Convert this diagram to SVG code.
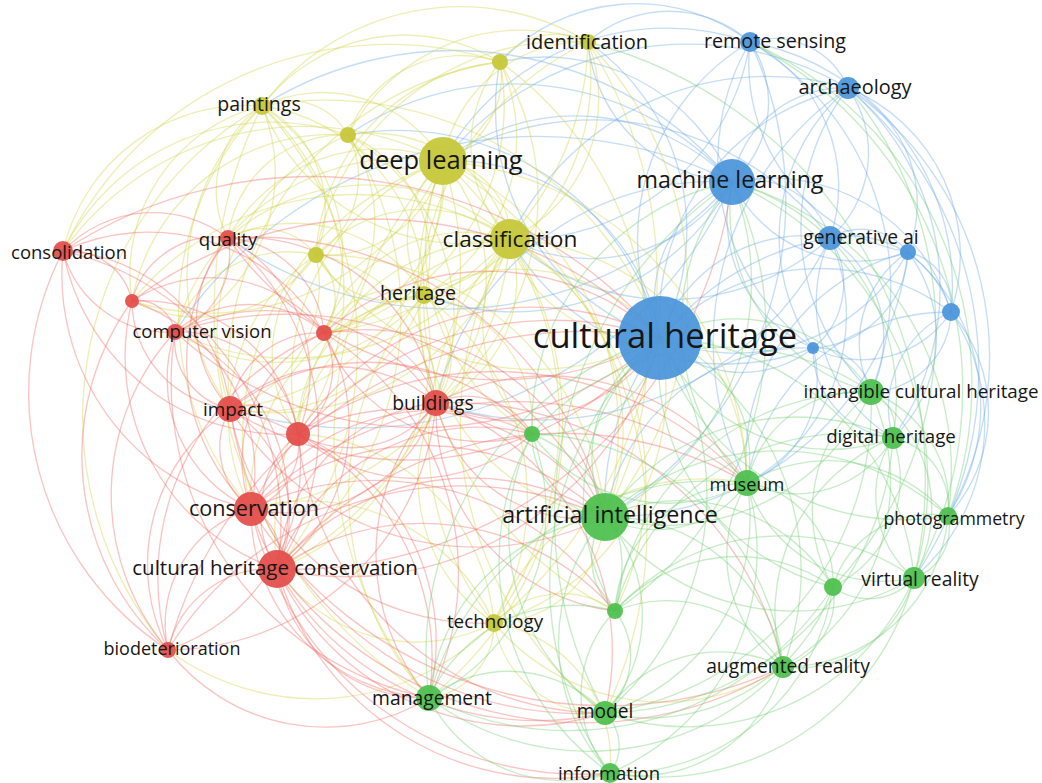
<svg xmlns="http://www.w3.org/2000/svg" width="1042" height="783" viewBox="0 0 1042 783">
<style>
.c path{fill:none;stroke-width:1.35;stroke-opacity:.4}
.eb path{stroke:#6ea9e6}
.ey path{stroke:#d3d548}
.er path{stroke:#ef6e69}
.eg path{stroke:#73d073}
.nb{fill:#4a94da}
.ny{fill:#c6c737}
.nr{fill:#e34c49}
.ng{fill:#4cc04c}
circle{fill-opacity:.93}
text{font-family:"Open Sans","Noto Sans","DejaVu Sans",sans-serif;fill:#161616;text-anchor:middle}
</style>
<rect width="1042" height="783" fill="#ffffff"/>
<g id="connectors" class="c">
<g class="eb">
<path d="M660 338A129 129 0 0 1 732 182"/><path d="M660 338A229 229 0 0 1 750 42"/><path d="M660 338A236 236 0 0 1 848 88"/><path d="M660 338A152 152 0 0 1 830 238"/><path d="M660 338A197 197 0 0 0 908 252"/><path d="M660 338A219 219 0 0 1 951 312"/><path d="M660 338A115 115 0 0 0 813 348"/><path d="M660 338A210 210 0 0 0 443 161"/><path d="M660 338A229 229 0 0 0 588 42"/><path d="M660 338A242 242 0 0 1 500 62"/><path d="M660 338A270 270 0 0 0 348 135"/>
<path d="M732 182A106 106 0 0 0 750 42"/><path d="M732 182A113 113 0 0 1 848 88"/><path d="M732 182A83 83 0 0 1 830 238"/><path d="M732 182A140 140 0 0 0 908 252"/><path d="M732 182A188 188 0 0 1 951 312"/><path d="M732 182A140 140 0 0 0 813 348"/><path d="M732 182A218 218 0 0 0 443 161"/><path d="M732 182A171 171 0 0 1 510 239"/><path d="M732 182A154 154 0 0 1 588 42"/><path d="M732 182A203 203 0 0 0 500 62"/><path d="M732 182A293 293 0 0 0 348 135"/><path d="M732 182A248 248 0 0 1 424 295"/><path d="M732 182A360 360 0 0 0 262 106"/><path d="M732 182A285 285 0 0 0 436 403"/><path d="M732 182A435 435 0 0 0 175 332"/><path d="M732 182A413 413 0 0 1 230 409"/><path d="M732 182A379 379 0 0 1 228 238"/>
<path d="M750 42A81 81 0 0 1 848 88"/><path d="M750 42A161 161 0 0 1 830 238"/><path d="M750 42A191 191 0 0 0 908 252"/><path d="M750 42A248 248 0 0 1 951 312"/><path d="M750 42A233 233 0 0 0 813 348"/><path d="M750 42A122 122 0 0 0 588 42"/><path d="M750 42A255 255 0 0 0 443 161"/><path d="M750 42A233 233 0 0 1 510 239"/><path d="M750 42A188 188 0 0 0 500 62"/>
<path d="M848 88A113 113 0 0 1 830 238"/><path d="M848 88A131 131 0 0 1 908 252"/><path d="M848 88A180 180 0 0 1 951 312"/><path d="M848 88A197 197 0 0 0 813 348"/><path d="M848 88A285 285 0 0 0 510 239"/><path d="M848 88A315 315 0 0 0 443 161"/>
<path d="M830 238A60 60 0 0 1 908 252"/><path d="M830 238A105 105 0 0 1 951 312"/><path d="M830 238A83 83 0 0 1 813 348"/><path d="M830 238A240 240 0 0 1 510 239"/><path d="M830 238A296 296 0 0 0 443 161"/><path d="M830 238A323 323 0 0 1 436 403"/>
<path d="M908 252A56 56 0 0 1 951 312"/><path d="M908 252A101 101 0 0 1 813 348"/><path d="M951 312A107 107 0 0 1 813 348"/><path d="M813 348A248 248 0 0 1 510 239"/>
<path d="M750 42A368 368 0 0 1 605 517"/><path d="M750 42A285 285 0 0 1 871 392"/><path d="M848 88A229 229 0 0 0 871 392"/><path d="M848 88A263 263 0 0 1 893 438"/><path d="M848 88A326 326 0 0 1 948 516"/><path d="M848 88A308 308 0 0 0 747 483"/><path d="M848 88A368 368 0 0 1 914 578"/>
<path d="M830 238A270 270 0 0 0 605 517"/><path d="M830 238A191 191 0 0 1 747 483"/><path d="M830 238A120 120 0 0 1 871 392"/><path d="M830 238A158 158 0 0 0 893 438"/>
<path d="M908 252A109 109 0 0 0 871 392"/><path d="M908 252A140 140 0 0 1 893 438"/><path d="M908 252A200 200 0 0 1 948 516"/><path d="M908 252A214 214 0 0 0 747 483"/><path d="M908 252A300 300 0 0 1 605 517"/>
<path d="M951 312A83 83 0 0 1 871 392"/><path d="M951 312A105 105 0 0 0 893 438"/><path d="M951 312A153 153 0 0 1 948 516"/><path d="M951 312A203 203 0 0 1 914 578"/><path d="M951 312A203 203 0 0 0 747 483"/>
<path d="M813 348A55 55 0 0 1 871 392"/><path d="M813 348A90 90 0 0 0 893 438"/><path d="M813 348A113 113 0 0 1 747 483"/><path d="M813 348A203 203 0 0 0 605 517"/>
</g>
<g class="ey">
<path d="M660 338A139 139 0 0 1 510 239"/><path d="M660 338A353 353 0 0 0 262 106"/><path d="M660 338A266 266 0 0 1 316 255"/><path d="M660 338A182 182 0 0 0 424 295"/><path d="M660 338A242 242 0 0 1 494 623"/>
<path d="M443 161A77 77 0 0 1 510 239"/><path d="M443 161A143 143 0 0 1 588 42"/><path d="M443 161A90 90 0 0 0 500 62"/><path d="M443 161A75 75 0 0 1 348 135"/><path d="M443 161A141 141 0 0 0 262 106"/><path d="M443 161A120 120 0 0 1 316 255"/><path d="M443 161A103 103 0 0 0 424 295"/><path d="M443 161A347 347 0 0 1 494 623"/><path d="M443 161A173 173 0 0 0 228 238"/><path d="M443 161A255 255 0 0 1 132 301"/><path d="M443 161A240 240 0 0 0 175 332"/><path d="M443 161A158 158 0 0 1 324 333"/><path d="M443 161A240 240 0 0 1 230 409"/><path d="M443 161A233 233 0 0 0 298 434"/><path d="M443 161A180 180 0 0 1 436 403"/><path d="M443 161A293 293 0 0 0 251 509"/><path d="M443 161A338 338 0 0 1 277 569"/><path d="M443 161A293 293 0 0 1 605 517"/><path d="M443 161A218 218 0 0 0 532 434"/><path d="M443 161A405 405 0 0 0 429 698"/><path d="M443 161A431 431 0 0 1 605 713"/><path d="M443 161A296 296 0 0 0 63 251"/><path d="M443 161A330 330 0 0 1 747 483"/><path d="M443 161A356 356 0 0 0 615 611"/>
<path d="M510 239A155 155 0 0 0 588 42"/><path d="M510 239A133 133 0 0 1 500 62"/><path d="M510 239A143 143 0 0 0 348 135"/><path d="M510 239A218 218 0 0 1 262 106"/><path d="M510 239A146 146 0 0 0 316 255"/><path d="M510 239A75 75 0 0 1 424 295"/><path d="M510 239A289 289 0 0 0 494 623"/><path d="M510 239A212 212 0 0 0 228 238"/><path d="M510 239A263 263 0 0 1 175 332"/><path d="M510 239A150 150 0 0 0 324 333"/><path d="M510 239A248 248 0 0 1 230 409"/><path d="M510 239A210 210 0 0 0 298 434"/><path d="M510 239A133 133 0 0 1 436 403"/><path d="M510 239A293 293 0 0 1 251 509"/><path d="M510 239A300 300 0 0 0 277 569"/><path d="M510 239A218 218 0 0 1 605 517"/><path d="M510 239A147 147 0 0 0 532 434"/><path d="M510 239A248 248 0 0 1 747 483"/><path d="M510 239A349 349 0 0 1 429 698"/><path d="M510 239A364 364 0 0 0 605 713"/><path d="M510 239A285 285 0 0 1 615 611"/><path d="M510 239A289 289 0 0 0 132 301"/>
<path d="M588 42A70 70 0 0 0 500 62"/><path d="M588 42A195 195 0 0 0 348 135"/><path d="M588 42A248 248 0 0 0 262 106"/><path d="M588 42A225 225 0 0 1 424 295"/><path d="M588 42A255 255 0 0 0 316 255"/><path d="M588 42A300 300 0 0 1 324 333"/><path d="M588 42A356 356 0 0 1 605 517"/><path d="M588 42A293 293 0 0 0 436 403"/><path d="M588 42A443 443 0 0 1 494 623"/>
<path d="M500 62A120 120 0 0 0 348 135"/><path d="M500 62A180 180 0 0 0 262 106"/><path d="M500 62A180 180 0 0 1 424 295"/><path d="M500 62A203 203 0 0 0 316 255"/><path d="M500 62A233 233 0 0 1 324 333"/><path d="M500 62A259 259 0 0 1 436 403"/><path d="M500 62A353 353 0 0 1 605 517"/><path d="M500 62A315 315 0 0 0 230 409"/>
<path d="M348 135A68 68 0 0 0 262 106"/><path d="M348 135A92 92 0 0 1 316 255"/><path d="M348 135A131 131 0 0 1 424 295"/><path d="M348 135A116 116 0 0 0 228 238"/><path d="M348 135A150 150 0 0 1 324 333"/><path d="M348 135A210 210 0 0 1 436 403"/><path d="M348 135A218 218 0 0 0 230 409"/><path d="M348 135A326 326 0 0 1 277 569"/><path d="M348 135A233 233 0 0 0 63 251"/><path d="M348 135A203 203 0 0 0 132 301"/>
<path d="M262 106A116 116 0 0 1 316 255"/><path d="M262 106A188 188 0 0 0 63 251"/><path d="M262 106A101 101 0 0 0 228 238"/><path d="M262 106A173 173 0 0 0 132 301"/><path d="M262 106A176 176 0 0 1 175 332"/><path d="M262 106A176 176 0 0 1 324 333"/><path d="M262 106A229 229 0 0 0 230 409"/><path d="M262 106A300 300 0 0 0 251 509"/><path d="M262 106A188 188 0 0 1 424 295"/><path d="M262 106A248 248 0 0 1 298 434"/><path d="M262 106A349 349 0 0 1 277 569"/><path d="M262 106A360 360 0 0 0 168 650"/><path d="M262 106A458 458 0 0 0 429 698"/><path d="M63 251A360 360 0 0 1 500 62"/>
<path d="M316 255A68 68 0 0 0 228 238"/><path d="M316 255A59 59 0 0 1 324 333"/><path d="M316 255A120 120 0 0 0 175 332"/><path d="M316 255A131 131 0 0 1 230 409"/><path d="M316 255A135 135 0 0 0 298 434"/><path d="M316 255A143 143 0 0 1 436 403"/><path d="M316 255A86 86 0 0 0 424 295"/><path d="M316 255A195 195 0 0 0 251 509"/><path d="M316 255A143 143 0 0 1 132 301"/><path d="M316 255A285 285 0 0 1 605 517"/>
<path d="M424 295A81 81 0 0 0 324 333"/><path d="M424 295A81 81 0 0 1 436 403"/><path d="M424 295A135 135 0 0 0 298 434"/><path d="M424 295A173 173 0 0 1 230 409"/><path d="M424 295A203 203 0 0 0 251 509"/><path d="M424 295A236 236 0 0 1 277 569"/><path d="M424 295A251 251 0 0 1 494 623"/><path d="M424 295A131 131 0 0 1 532 434"/><path d="M424 295A214 214 0 0 0 605 517"/><path d="M424 295A191 191 0 0 1 175 332"/><path d="M424 295A300 300 0 0 0 429 698"/><path d="M424 295A154 154 0 0 0 228 238"/>
<path d="M494 623A75 75 0 0 1 429 698"/><path d="M494 623A108 108 0 0 0 605 713"/><path d="M494 623A139 139 0 0 1 610 773"/><path d="M494 623A113 113 0 0 0 605 517"/><path d="M494 623A169 169 0 0 1 277 569"/><path d="M494 623A203 203 0 0 0 251 509"/><path d="M494 623A173 173 0 0 1 436 403"/><path d="M494 623A92 92 0 0 1 615 611"/><path d="M494 623A221 221 0 0 0 783 667"/><path d="M494 623A225 225 0 0 1 747 483"/><path d="M494 623A206 206 0 0 0 298 434"/><path d="M494 623A248 248 0 0 1 168 650"/>
</g>
<g class="er">
<path d="M660 338A455 455 0 0 0 63 251"/><path d="M660 338A330 330 0 0 1 228 238"/><path d="M660 338A401 401 0 0 0 132 301"/><path d="M660 338A364 364 0 0 1 175 332"/><path d="M660 338A252 252 0 0 0 324 333"/><path d="M660 338A327 327 0 0 1 230 409"/><path d="M660 338A280 280 0 0 0 298 434"/><path d="M660 338A173 173 0 0 1 436 403"/><path d="M660 338A335 335 0 0 0 251 509"/><path d="M660 338A324 324 0 0 1 277 569"/><path d="M660 338A431 431 0 0 0 168 650"/><path d="M732 182A443 443 0 0 1 277 569"/>
<path d="M63 251A64 64 0 0 1 132 301"/><path d="M63 251A124 124 0 0 1 228 238"/><path d="M63 251A109 109 0 0 0 175 332"/><path d="M63 251A176 176 0 0 1 230 409"/><path d="M63 251A240 240 0 0 0 251 509"/><path d="M63 251A278 278 0 0 1 277 569"/><path d="M63 251A308 308 0 0 0 168 650"/><path d="M63 251A203 203 0 0 1 324 333"/><path d="M63 251A225 225 0 0 0 298 434"/>
<path d="M228 238A86 86 0 0 0 132 301"/><path d="M228 238A83 83 0 0 1 175 332"/><path d="M228 238A105 105 0 0 1 324 333"/><path d="M228 238A128 128 0 0 0 230 409"/><path d="M228 238A154 154 0 0 1 298 434"/><path d="M228 238A195 195 0 0 1 436 403"/><path d="M228 238A203 203 0 0 0 251 509"/><path d="M228 238A251 251 0 0 1 277 569"/><path d="M228 238A360 360 0 0 1 605 517"/>
<path d="M132 301A38 38 0 0 1 175 332"/><path d="M132 301A109 109 0 0 0 230 409"/><path d="M132 301A180 180 0 0 1 251 509"/><path d="M132 301A225 225 0 0 0 277 569"/><path d="M132 301A263 263 0 0 0 168 650"/><path d="M132 301A158 158 0 0 1 298 434"/><path d="M132 301A144 144 0 0 1 324 333"/>
<path d="M175 332A113 113 0 0 1 324 333"/><path d="M175 332A71 71 0 0 0 230 409"/><path d="M175 332A120 120 0 0 1 298 434"/><path d="M175 332A203 203 0 0 1 436 403"/><path d="M175 332A143 143 0 0 0 251 509"/><path d="M175 332A188 188 0 0 1 277 569"/><path d="M175 332A240 240 0 0 0 168 650"/><path d="M175 332A353 353 0 0 1 605 517"/><path d="M175 332A323 323 0 0 0 429 698"/>
<path d="M324 333A90 90 0 0 0 230 409"/><path d="M324 333A79 79 0 0 1 298 434"/><path d="M324 333A98 98 0 0 1 436 403"/><path d="M324 333A139 139 0 0 0 251 509"/><path d="M324 333A180 180 0 0 1 277 569"/><path d="M324 333A248 248 0 0 1 605 517"/><path d="M324 333A169 169 0 0 0 532 434"/><path d="M324 333A263 263 0 0 0 168 650"/><path d="M324 333A281 281 0 0 1 429 698"/>
<path d="M230 409A54 54 0 0 1 298 434"/><path d="M230 409A155 155 0 0 1 436 403"/><path d="M230 409A77 77 0 0 0 251 509"/><path d="M230 409A124 124 0 0 1 277 569"/><path d="M230 409A188 188 0 0 0 168 650"/><path d="M230 409A289 289 0 0 0 605 517"/><path d="M230 409A255 255 0 0 1 429 698"/><path d="M230 409A255 255 0 0 0 494 623"/><path d="M230 409A225 225 0 0 1 532 434"/><path d="M230 409A356 356 0 0 0 605 713"/>
<path d="M298 434A105 105 0 0 0 436 403"/><path d="M298 434A68 68 0 0 1 251 509"/><path d="M298 434A103 103 0 0 0 277 569"/><path d="M298 434A195 195 0 0 1 168 650"/><path d="M298 434A240 240 0 0 1 605 517"/><path d="M298 434A176 176 0 0 0 532 434"/><path d="M298 434A225 225 0 0 1 429 698"/><path d="M298 434A341 341 0 0 1 747 483"/><path d="M298 434A308 308 0 0 0 605 713"/>
<path d="M436 403A158 158 0 0 1 251 509"/><path d="M436 403A180 180 0 0 0 277 569"/><path d="M436 403A270 270 0 0 1 168 650"/><path d="M436 403A150 150 0 0 0 605 517"/><path d="M436 403A75 75 0 0 1 532 434"/><path d="M436 403A240 240 0 0 1 747 483"/><path d="M436 403A221 221 0 0 0 429 698"/><path d="M436 403A263 263 0 0 1 605 713"/><path d="M436 403A203 203 0 0 0 615 611"/><path d="M436 403A338 338 0 0 1 783 667"/>
<path d="M251 509A49 49 0 0 1 277 569"/><path d="M251 509A120 120 0 0 0 168 650"/><path d="M251 509A266 266 0 0 1 605 517"/><path d="M251 509A188 188 0 0 0 429 698"/><path d="M251 509A300 300 0 0 0 605 713"/><path d="M251 509A218 218 0 0 1 532 434"/><path d="M251 509A285 285 0 0 1 615 611"/><path d="M251 509A375 375 0 0 1 747 483"/><path d="M251 509A420 420 0 0 0 783 667"/><path d="M251 509A338 338 0 0 0 610 773"/>
<path d="M277 569A105 105 0 0 0 168 650"/><path d="M277 569A251 251 0 0 1 605 517"/><path d="M277 569A150 150 0 0 0 429 698"/><path d="M277 569A270 270 0 0 0 605 713"/><path d="M277 569A289 289 0 0 0 610 773"/><path d="M277 569A255 255 0 0 1 615 611"/><path d="M277 569A214 214 0 0 1 532 434"/><path d="M277 569A368 368 0 0 1 747 483"/><path d="M277 569A383 383 0 0 0 783 667"/>
<path d="M168 650A199 199 0 0 0 429 698"/><path d="M168 650A345 345 0 0 1 605 517"/>
</g>
<g class="eg">
<path d="M660 338A140 140 0 0 0 605 517"/><path d="M660 338A161 161 0 0 1 871 392"/><path d="M660 338A184 184 0 0 0 893 438"/><path d="M660 338A124 124 0 0 1 747 483"/><path d="M660 338A255 255 0 0 0 948 516"/><path d="M660 338A263 263 0 0 1 914 578"/><path d="M660 338A230 230 0 0 0 833 587"/><path d="M660 338A119 119 0 0 1 532 434"/><path d="M660 338A210 210 0 0 0 615 611"/><path d="M660 338A263 263 0 0 1 783 667"/><path d="M660 338A330 330 0 0 0 429 698"/><path d="M660 338A285 285 0 0 1 605 713"/><path d="M660 338A328 328 0 0 0 610 773"/>
<path d="M732 182A263 263 0 0 1 605 517"/><path d="M732 182A188 188 0 0 0 871 392"/><path d="M732 182A225 225 0 0 1 893 438"/><path d="M732 182A225 225 0 0 0 747 483"/><path d="M732 182A300 300 0 0 1 948 516"/><path d="M732 182A330 330 0 0 1 914 578"/><path d="M732 182A248 248 0 0 0 532 434"/><path d="M732 182A338 338 0 0 1 615 611"/><path d="M732 182A405 405 0 0 0 605 713"/>
<path d="M750 42A390 390 0 0 1 914 578"/><path d="M750 42A375 375 0 0 1 948 516"/><path d="M588 42A450 450 0 0 1 914 578"/><path d="M848 88A375 375 0 0 1 833 587"/>
<path d="M605 517A225 225 0 0 0 871 392"/><path d="M605 517A233 233 0 0 1 893 438"/><path d="M605 517A111 111 0 0 0 747 483"/><path d="M605 517A257 257 0 0 1 948 516"/><path d="M605 517A236 236 0 0 0 914 578"/><path d="M605 517A179 179 0 0 1 833 587"/><path d="M605 517A83 83 0 0 1 532 434"/><path d="M605 517A71 71 0 0 0 615 611"/><path d="M605 517A176 176 0 0 1 783 667"/><path d="M605 517A203 203 0 0 0 429 698"/><path d="M605 517A147 147 0 0 1 605 713"/><path d="M605 517A192 192 0 0 0 610 773"/>
<path d="M871 392A38 38 0 0 1 893 438"/><path d="M871 392A116 116 0 0 0 747 483"/><path d="M871 392A120 120 0 0 1 948 516"/><path d="M871 392A143 143 0 0 1 914 578"/><path d="M871 392A150 150 0 0 0 833 587"/><path d="M871 392A214 214 0 0 1 783 667"/><path d="M871 392A259 259 0 0 0 532 434"/><path d="M871 392A311 311 0 0 1 605 713"/><path d="M871 392A255 255 0 0 0 615 611"/>
<path d="M893 438A113 113 0 0 1 747 483"/><path d="M893 438A71 71 0 0 1 948 516"/><path d="M893 438A107 107 0 0 0 914 578"/><path d="M893 438A120 120 0 0 1 833 587"/><path d="M893 438A188 188 0 0 0 783 667"/><path d="M893 438A293 293 0 0 1 605 713"/><path d="M893 438A240 240 0 0 0 615 611"/>
<path d="M747 483A158 158 0 0 1 948 516"/><path d="M747 483A143 143 0 0 0 914 578"/><path d="M747 483A101 101 0 0 1 833 587"/><path d="M747 483A139 139 0 0 0 783 667"/><path d="M747 483A203 203 0 0 1 605 713"/><path d="M747 483A135 135 0 0 0 615 611"/><path d="M747 483A167 167 0 0 1 532 434"/><path d="M747 483A240 240 0 0 1 610 773"/><path d="M747 483A293 293 0 0 0 429 698"/>
<path d="M948 516A53 53 0 0 1 914 578"/><path d="M948 516A101 101 0 0 0 833 587"/><path d="M948 516A165 165 0 0 1 783 667"/>
<path d="M914 578A60 60 0 0 1 833 587"/><path d="M914 578A120 120 0 0 1 783 667"/><path d="M914 578A248 248 0 0 1 605 713"/><path d="M914 578A225 225 0 0 0 615 611"/><path d="M914 578A266 266 0 0 1 610 773"/>
<path d="M833 587A71 71 0 0 1 783 667"/><path d="M833 587A195 195 0 0 1 605 713"/><path d="M833 587A165 165 0 0 0 615 611"/><path d="M833 587A218 218 0 0 1 610 773"/><path d="M833 587A315 315 0 0 1 429 698"/>
<path d="M532 434A143 143 0 0 1 615 611"/><path d="M532 434A218 218 0 0 0 605 713"/><path d="M532 434A210 210 0 0 1 429 698"/><path d="M532 434A259 259 0 0 1 783 667"/><path d="M532 434A259 259 0 0 0 610 773"/>
<path d="M615 611A135 135 0 0 1 783 667"/><path d="M615 611A158 158 0 0 0 429 698"/><path d="M615 611A75 75 0 0 1 605 713"/><path d="M615 611A120 120 0 0 0 610 773"/>
<path d="M783 667A266 266 0 0 1 429 698"/><path d="M783 667A139 139 0 0 0 605 713"/><path d="M783 667A150 150 0 0 1 610 773"/>
<path d="M429 698A132 132 0 0 1 605 713"/><path d="M429 698A150 150 0 0 0 610 773"/><path d="M605 713A45 45 0 0 1 610 773"/>
</g>
</g>
<g id="n-b8"><circle class="nb" cx="813" cy="348" r="6"/></g>
<g id="n-b6"><circle class="nb" cx="908" cy="252" r="8"/></g>
<g id="n-b7"><circle class="nb" cx="951" cy="312" r="9"/></g>
<g id="n-y4"><circle class="ny" cx="500" cy="62" r="8"/></g>
<g id="n-y5"><circle class="ny" cx="348" cy="135" r="8"/></g>
<g id="n-y7"><circle class="ny" cx="316" cy="255" r="8"/></g>
<g id="n-r3"><circle class="nr" cx="132" cy="301" r="7"/></g>
<g id="n-r5"><circle class="nr" cx="324" cy="333" r="8"/></g>
<g id="n-r7"><circle class="nr" cx="298" cy="434" r="12"/></g>
<g id="n-g7"><circle class="ng" cx="833" cy="587" r="9"/></g>
<g id="n-g8"><circle class="ng" cx="532" cy="434" r="8"/></g>
<g id="n-g9"><circle class="ng" cx="615" cy="611" r="8"/></g>
<g id="n-cultural-heritage"><circle class="nb" cx="660" cy="338" r="42"/><text x="665" y="348" font-size="34.6">cultural heritage</text></g>
<g id="n-machine-learning"><circle class="nb" cx="732" cy="182" r="23"/><text x="730" y="188" font-size="23.2">machine learning</text></g>
<g id="n-remote-sensing"><circle class="nb" cx="750" cy="42" r="10"/><text x="775" y="48" font-size="19.7">remote sensing</text></g>
<g id="n-archaeology"><circle class="nb" cx="848" cy="88" r="11"/><text x="855" y="94" font-size="19.9">archaeology</text></g>
<g id="n-generative-ai"><circle class="nb" cx="830" cy="238" r="12"/><text x="861" y="244" font-size="19.3">generative ai</text></g>
<g id="n-deep-learning"><circle class="ny" cx="443" cy="161" r="24"/><text x="441" y="169" font-size="25.5">deep learning</text></g>
<g id="n-classification"><circle class="ny" cx="510" cy="239" r="20"/><text x="510" y="247" font-size="22.7">classification</text></g>
<g id="n-identification"><circle class="ny" cx="588" cy="42" r="8"/><text x="587" y="49" font-size="20">identification</text></g>
<g id="n-paintings"><circle class="ny" cx="262" cy="106" r="9"/><text x="259" y="111" font-size="19.5">paintings</text></g>
<g id="n-heritage"><circle class="ny" cx="424" cy="295" r="9"/><text x="418" y="300" font-size="19.8">heritage</text></g>
<g id="n-technology"><circle class="ny" cx="494" cy="623" r="9"/><text x="495" y="628" font-size="18.8">technology</text></g>
<g id="n-consolidation"><circle class="nr" cx="63" cy="251" r="10"/><text x="69" y="259" font-size="18.5">consolidation</text></g>
<g id="n-quality"><circle class="nr" cx="228" cy="238" r="8"/><text x="228" y="246" font-size="18.6">quality</text></g>
<g id="n-computer-vision"><circle class="nr" cx="175" cy="332" r="8"/><text x="202" y="338" font-size="18.5">computer vision</text></g>
<g id="n-impact"><circle class="nr" cx="230" cy="409" r="13"/><text x="233" y="416" font-size="18.9">impact</text></g>
<g id="n-buildings"><circle class="nr" cx="436" cy="403" r="13"/><text x="433" y="410" font-size="19.3">buildings</text></g>
<g id="n-conservation"><circle class="nr" cx="251" cy="509" r="17"/><text x="254" y="516" font-size="21.6">conservation</text></g>
<g id="n-cultural-heritage-conservation"><circle class="nr" cx="277" cy="569" r="19"/><text x="275" y="575" font-size="20.5">cultural heritage conservation</text></g>
<g id="n-biodeterioration"><circle class="nr" cx="168" cy="650" r="8"/><text x="172" y="655" font-size="18">biodeterioration</text></g>
<g id="n-artificial-intelligence"><circle class="ng" cx="605" cy="517" r="24"/><text x="610" y="523" font-size="23.3">artificial intelligence</text></g>
<g id="n-intangible-cultural-heritage"><circle class="ng" cx="871" cy="392" r="13"/><text x="921" y="398" font-size="18.8">intangible cultural heritage</text></g>
<g id="n-digital-heritage"><circle class="ng" cx="893" cy="438" r="11"/><text x="891" y="443" font-size="18.7">digital heritage</text></g>
<g id="n-museum"><circle class="ng" cx="747" cy="483" r="13"/><text x="747" y="491" font-size="18.2">museum</text></g>
<g id="n-photogrammetry"><circle class="ng" cx="948" cy="516" r="9"/><text x="954" y="525" font-size="17.7">photogrammetry</text></g>
<g id="n-virtual-reality"><circle class="ng" cx="914" cy="578" r="11"/><text x="920" y="586" font-size="19.3">virtual reality</text></g>
<g id="n-augmented-reality"><circle class="ng" cx="783" cy="667" r="11"/><text x="788" y="673" font-size="19.3">augmented reality</text></g>
<g id="n-management"><circle class="ng" cx="429" cy="698" r="13"/><text x="432" y="705" font-size="19.3">management</text></g>
<g id="n-model"><circle class="ng" cx="605" cy="713" r="12"/><text x="605" y="718" font-size="19.2">model</text></g>
<g id="n-information"><circle class="ng" cx="610" cy="773" r="10"/><text x="609" y="780" font-size="18.5">information</text></g>
</svg>
